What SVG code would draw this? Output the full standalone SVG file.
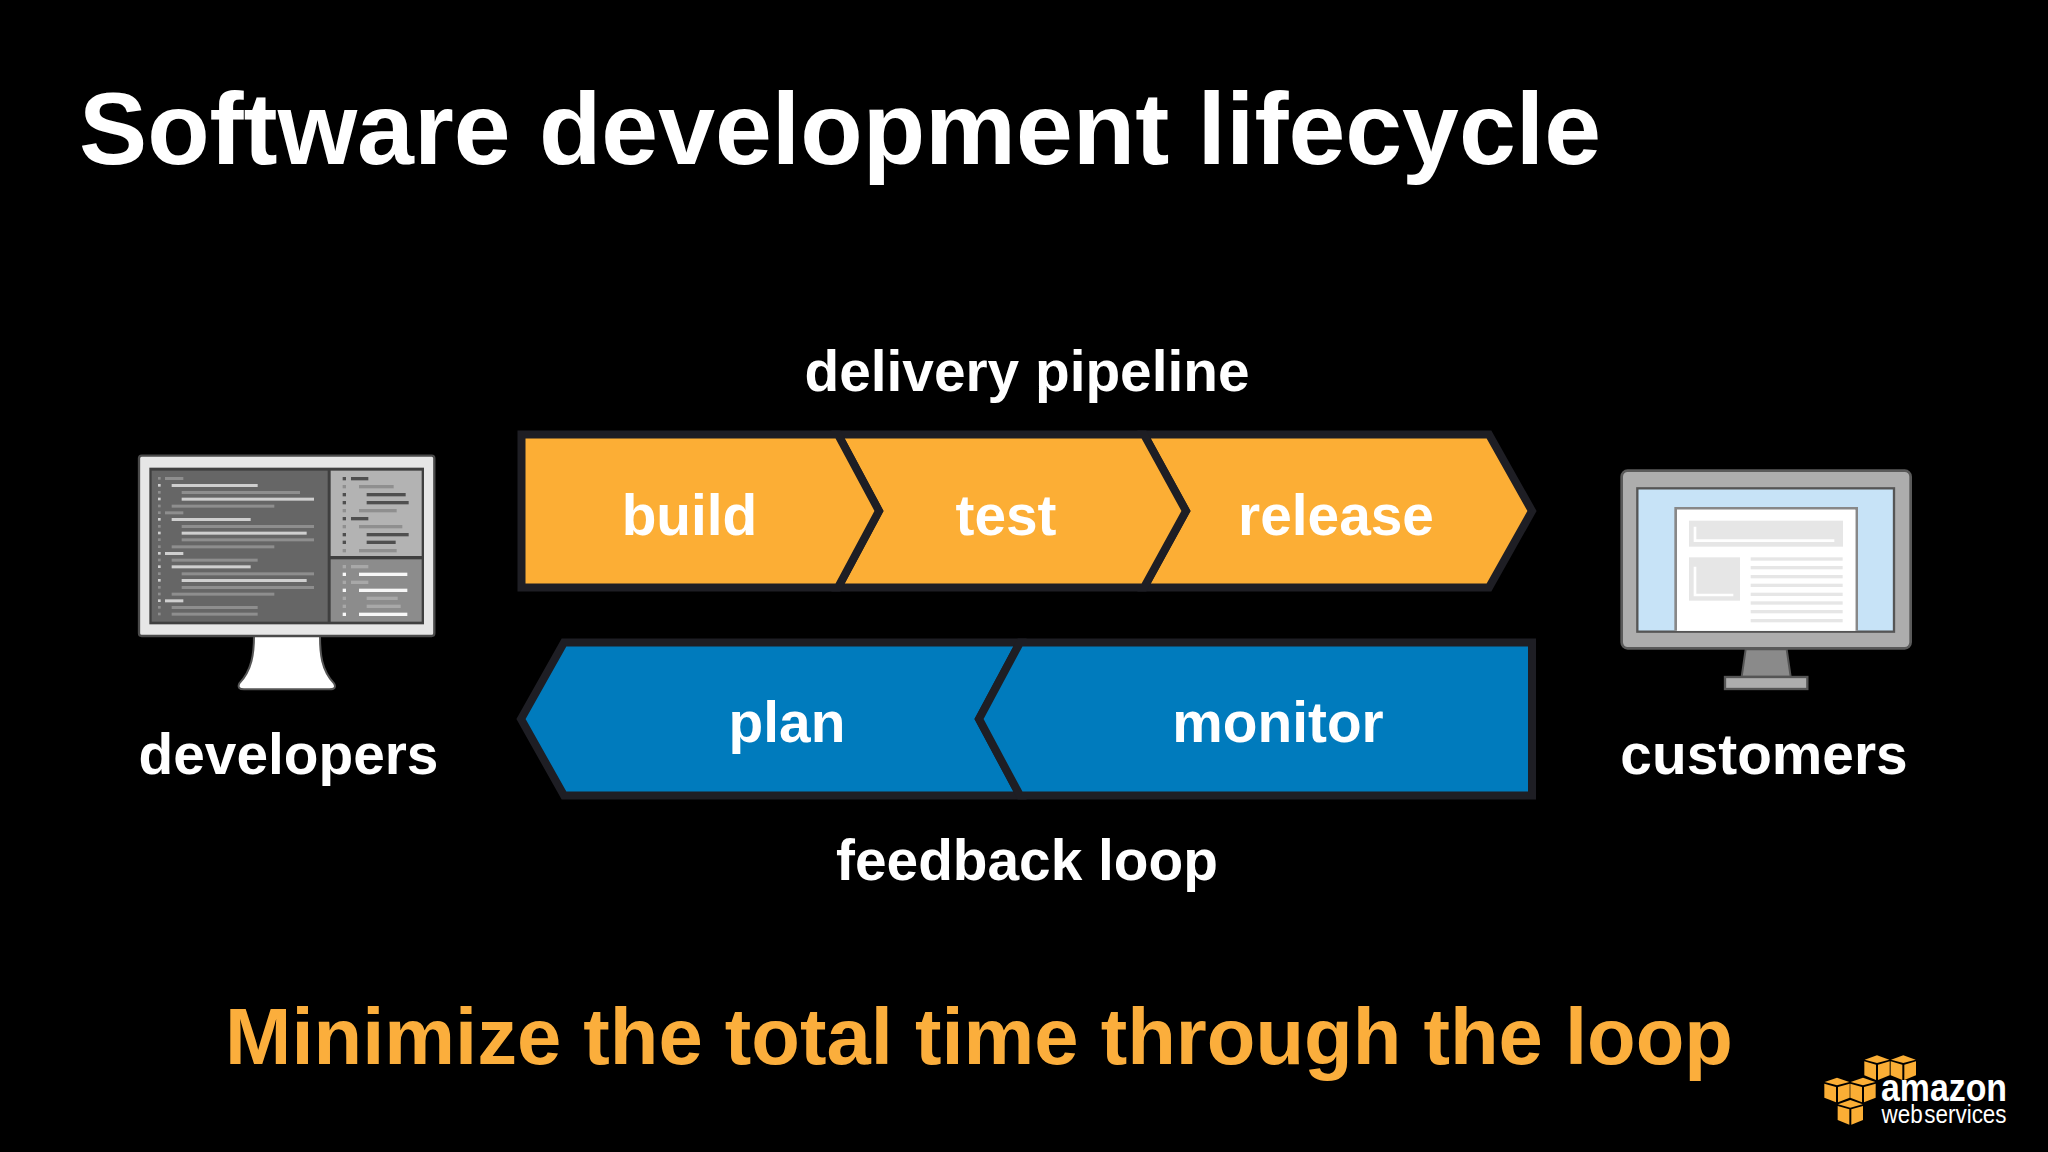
<svg xmlns="http://www.w3.org/2000/svg" xmlns:xlink="http://www.w3.org/1999/xlink" width="2048" height="1152" viewBox="0 0 2048 1152">
<style>
text{font-family:"Liberation Sans",Arial,sans-serif;font-weight:700;fill:#fff;text-anchor:middle}
.lbl{font-size:56.8px}
.seg{stroke:#1e1e24;stroke-width:8;stroke-linejoin:miter}
.or{fill:#fcae35}.bl{fill:#007bbd}
.d{fill:#8e8e8e}.b{fill:#cfcfcf}.k{fill:#4f4f4f}.m{fill:#8f8f8f}.w{fill:#f7f7f7}.n{fill:#a8a8a8}
.g{fill:#e6e6e6}
.c{fill:#fbae35}
</style>
<defs>
<g id="cube">
<polygon class="c" points="1,13 38,0 75,13 38,23"/>
<polygon class="c" points="0,18 35,28 35,74 0,60"/>
<polygon class="c" points="41,28 76,18 76,60 41,74"/>
</g>
</defs>
<rect width="2048" height="1152" fill="#000"/>
<text id="title" x="840" y="164" style="font-size:102.2px">Software development lifecycle</text>
<text id="pipeline-label" class="lbl" x="1027" y="391">delivery pipeline</text>
<g id="release"><polygon class="seg or" points="1144,434.5 1489,434.5 1532,511 1489,587.5 1144,587.5 1186,511"/><text class="lbl" x="1336" y="534.5">release</text></g>
<g id="test"><polygon class="seg or" points="838,434.5 1144,434.5 1186,511 1144,587.5 838,587.5 879,511"/><text class="lbl" x="1006" y="534.5">test</text></g>
<g id="build"><polygon class="seg or" points="521.5,434.5 838,434.5 879,511 838,587.5 521.5,587.5"/><text class="lbl" x="689.5" y="534.5">build</text></g>
<g id="plan"><polygon class="seg bl" points="564,642.5 1020,642.5 979,719 1020,795.5 564,795.5 521,719"/><text class="lbl" x="787" y="742">plan</text></g>
<g id="monitor"><polygon class="seg bl" points="1020,642.5 1532,642.5 1532,795.5 1020,795.5 979,719"/><text class="lbl" x="1278" y="742">monitor</text></g>
<text id="loop-label" class="lbl" x="1027" y="880">feedback loop</text>
<g id="developers">
<g transform="translate(120,440) scale(.33333)">
<path d="M402 588 C402 640 396 690 358 730 Q350 748 372 748 L628 748 Q652 748 642 730 C604 690 600 640 600 588Z" fill="#fff" stroke="#555" stroke-width="6"/>
<rect x="57" y="47" width="886" height="541" rx="8" fill="#e6e6e6" stroke="#4a4a4a" stroke-width="7"/>
<rect x="88" y="83" width="824" height="470" fill="#3f3f3f"/>
<rect x="95" y="92" width="528" height="453" fill="#666"/>
<rect x="632" y="92" width="273" height="256" fill="#b3b3b3"/>
<rect x="632" y="358" width="273" height="187" fill="#8c8c8c"/>
<g class="d">
<rect x="114" y="111" width="8" height="8"/><rect x="135" y="111" width="55" height="9"/>
<rect x="114" y="153" width="8" height="8"/><rect x="185" y="153" width="355" height="9"/>
<rect x="114" y="194" width="8" height="8"/><rect x="155" y="194" width="308" height="9"/>
<rect x="114" y="214" width="8" height="8"/><rect x="135" y="214" width="55" height="9"/>
<rect x="114" y="255" width="8" height="8"/><rect x="185" y="255" width="397" height="9"/>
<rect x="114" y="295" width="8" height="8"/><rect x="185" y="295" width="397" height="9"/>
<rect x="114" y="316" width="8" height="8"/><rect x="155" y="316" width="308" height="9"/>
<rect x="114" y="356" width="8" height="8"/><rect x="155" y="356" width="258" height="9"/>
<rect x="114" y="397" width="8" height="8"/><rect x="185" y="397" width="397" height="9"/>
<rect x="114" y="438" width="8" height="8"/><rect x="185" y="438" width="397" height="9"/>
<rect x="114" y="458" width="8" height="8"/><rect x="155" y="458" width="308" height="9"/>
<rect x="114" y="498" width="8" height="8"/><rect x="155" y="498" width="258" height="9"/>
<rect x="114" y="518" width="8" height="8"/><rect x="155" y="518" width="258" height="9"/>
</g>
<g class="b">
<rect x="114" y="132" width="8" height="8"/><rect x="155" y="132" width="258" height="9"/>
<rect x="114" y="173" width="8" height="8"/><rect x="185" y="173" width="397" height="9"/>
<rect x="114" y="234" width="8" height="8"/><rect x="155" y="234" width="237" height="9"/>
<rect x="114" y="275" width="8" height="8"/><rect x="185" y="275" width="375" height="9"/>
<rect x="114" y="336" width="8" height="8"/><rect x="135" y="336" width="55" height="9"/>
<rect x="114" y="376" width="8" height="8"/><rect x="155" y="376" width="237" height="9"/>
<rect x="114" y="417" width="8" height="8"/><rect x="185" y="417" width="375" height="9"/>
<rect x="114" y="478" width="8" height="8"/><rect x="135" y="478" width="55" height="9"/>
</g>
<g class="k">
<rect x="668" y="111" width="10" height="10"/><rect x="693" y="111" width="52" height="10"/>
<rect x="668" y="159" width="10" height="10"/><rect x="740" y="159" width="117" height="10"/>
<rect x="668" y="183" width="10" height="10"/><rect x="740" y="183" width="126" height="10"/>
<rect x="668" y="231" width="10" height="10"/><rect x="693" y="231" width="52" height="10"/>
<rect x="668" y="279" width="10" height="10"/><rect x="740" y="279" width="126" height="10"/>
<rect x="668" y="302" width="10" height="10"/><rect x="740" y="302" width="87" height="10"/>
</g>
<g class="m">
<rect x="668" y="135" width="10" height="10"/><rect x="717" y="135" width="104" height="10"/>
<rect x="668" y="207" width="10" height="10"/><rect x="717" y="207" width="113" height="10"/>
<rect x="668" y="255" width="10" height="10"/><rect x="717" y="255" width="130" height="10"/>
<rect x="668" y="327" width="10" height="10"/><rect x="717" y="327" width="113" height="10"/>
</g>
<g class="n">
<rect x="668" y="375" width="10" height="10"/><rect x="693" y="375" width="52" height="10"/>
<rect x="668" y="422" width="10" height="10"/><rect x="693" y="422" width="52" height="10"/>
<rect x="668" y="470" width="10" height="10"/><rect x="740" y="470" width="93" height="10"/>
<rect x="668" y="494" width="10" height="10"/><rect x="740" y="494" width="102" height="10"/>
</g>
<g class="w">
<rect x="668" y="398" width="10" height="10"/><rect x="717" y="398" width="145" height="10"/>
<rect x="668" y="446" width="10" height="10"/><rect x="717" y="446" width="145" height="10"/>
<rect x="668" y="518" width="10" height="10"/><rect x="717" y="518" width="145" height="10"/>
</g>
</g>
<text class="lbl" x="288.5" y="774">developers</text>
</g>
<g id="customers">
<g transform="translate(1600,460) scale(.33333)">
<polygon points="437,568 560,568 572,650 425,650" fill="#8a8a8a" stroke="#555" stroke-width="6"/>
<rect x="375" y="651" width="247" height="36" fill="#adadad" stroke="#555" stroke-width="7"/>
<rect x="65" y="32" width="867" height="533" rx="18" fill="#adadad" stroke="#5a5a5a" stroke-width="8"/>
<rect x="112" y="85" width="770" height="430" fill="#c7e3f7" stroke="#555" stroke-width="7"/>
<path d="M227 512V145H770V512" fill="#fff" stroke="#888" stroke-width="8"/>
<rect x="231" y="149" width="535" height="363" fill="#fff"/>
<g class="g">
<rect x="267" y="182" width="462" height="78"/>
<rect x="267" y="292" width="153" height="130"/>
<rect x="452" y="292" width="276" height="10"/>
<rect x="452" y="318" width="276" height="10"/>
<rect x="452" y="345" width="276" height="10"/>
<rect x="452" y="371" width="276" height="10"/>
<rect x="452" y="398" width="276" height="10"/>
<rect x="452" y="424" width="276" height="10"/>
<rect x="452" y="450" width="276" height="10"/>
<rect x="452" y="477" width="276" height="10"/>
</g>
<path d="M285 200V242H703M285 320V405H400" fill="none" stroke="#fff" stroke-width="8"/>
</g>
<text class="lbl" x="1764" y="774">customers</text>
</g>
<text id="takeaway" x="979" y="1064" style="font-size:79.6px;fill:#fbae3c">Minimize the total time through the loop</text>
<g id="aws-logo">
<g transform="translate(1800,1040) scale(.33333)">
<use xlink:href="#cube" href="#cube" x="193" y="46"/>
<use xlink:href="#cube" href="#cube" x="272" y="46"/>
<use xlink:href="#cube" href="#cube" x="73" y="113"/>
<use xlink:href="#cube" href="#cube" x="151" y="113"/>
<use xlink:href="#cube" href="#cube" x="113" y="180"/>
</g>
<text x="1944" y="1101" textLength="126" lengthAdjust="spacingAndGlyphs" style="font-size:38px">amazon</text>
<text x="1944" y="1123" textLength="125" lengthAdjust="spacingAndGlyphs" style="font-size:25px;font-weight:400;word-spacing:-5px">web services</text>
</g>
</svg>
